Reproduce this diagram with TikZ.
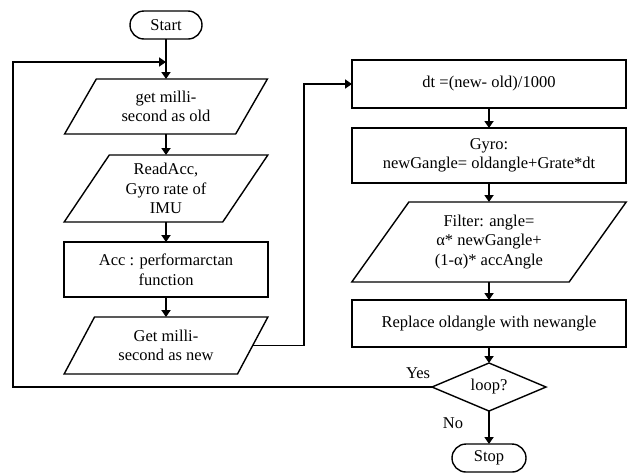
\documentclass[tikz,border=0pt]{standalone}
\usepackage{fontspec}
\setmainfont{Liberation Serif}
\usetikzlibrary{positioning, arrows.meta, shapes.geometric}

\begin{document}
\begin{tikzpicture}[x = 1pt, y = -1pt, font = \fontsize{16.5}{19.5}\selectfont, -{Triangle[length = 7pt, width = 9pt]}, line width = 1.8pt, draw = black,
  process/.style = {draw, rectangle, align = center, inner sep = 2pt, outer sep = 0pt},
  io/.style = {draw, trapezium, trapezium left angle = 58, trapezium right angle = 122, trapezium stretches = true, align = center, inner sep = 1pt, outer sep = 0pt, line width = 1.4pt},
  terminal/.style = {draw, rectangle, rounded corners = 14pt, minimum height = 28pt, outer sep = 0pt, line width = 1.4pt},
  decision/.style = {draw, diamond, aspect = 2.4, inner sep = 0pt, outer sep = 0pt, line width = 1.4pt}]
  \useasboundingbox (0, 0) rectangle (628, 472);

  \node[terminal, minimum width = 72pt] (start) at (166, 25) {Start};
  \node[io, minimum width = 203pt, minimum height = 55pt, below = 40pt of start] (getold) {get milli-\\second as old};
  \node[io, minimum width = 204pt, minimum height = 67pt, below = 21pt of getold] (readacc) {ReadAcc,\\Gyro rate of\\IMU};
  \node[process, minimum width = 204pt, minimum height = 55pt, below = 20pt of readacc] (acc) {Acc : performarctan\\function};
  \node[io, minimum width = 204pt, minimum height = 57pt, below = 20pt of acc] (getnew) {Get milli-\\second as new};

  \node[process, minimum width = 274pt, minimum height = 48pt] (dt) at (489, 84) {dt =(new- old)/1000};
  \node[process, minimum width = 274pt, minimum height = 55pt, below = 20pt of dt] (gyro) {Gyro:\\newGangle= oldangle+Grate*dt};
  \node[io, trapezium left angle = 55, trapezium right angle = 125, minimum width = 275pt, minimum height = 80pt, below = 19pt of gyro] (filter) {Filter: angle=\\α* newGangle+\\(1-α)* accAngle};
  \node[process, minimum width = 274pt, minimum height = 47pt, below = 18pt of filter] (replace) {Replace oldangle with newangle};
  \node[decision, minimum width = 114pt, minimum height = 48pt, below = 16pt of replace] (loop) {loop?};
  \node[terminal, minimum width = 74pt, below = 33pt of loop] (stop) {Stop};

  \node (yes) at (418, 373) {Yes};
  \node (no) at (453, 423) {No};
  \coordinate (back) at (13, 62);
  \coordinate (join) at (166, 62);

  \draw (start) -- (getold);
  \draw (getold) -- (readacc);
  \draw (readacc) -- (acc);
  \draw (acc) -- (getnew);
  \draw (getnew.east) -- ++(51, 0) |- (dt.west);
  \draw (dt) -- (gyro);
  \draw (gyro) -- (filter);
  \draw (filter) -- (replace);
  \draw (replace) -- (loop);
  \draw (loop) -- (stop);
  \draw (loop.west) -| (back) -- (join);
\end{tikzpicture}
\end{document}
